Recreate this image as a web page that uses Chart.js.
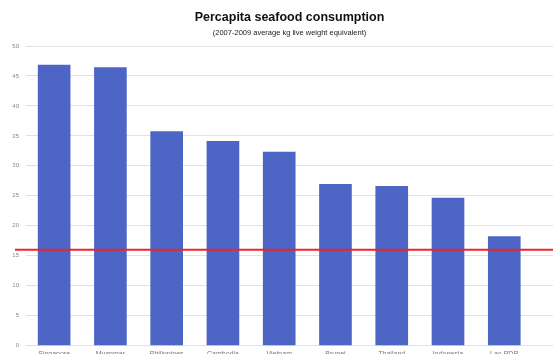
<!DOCTYPE html>
<html>
<head>
<meta charset="utf-8">
<script src="https://cdn.jsdelivr.net/npm/chart.js@4/dist/chart.umd.min.js"></script>
<style>
  html, body { margin: 0; padding: 0; background: #fff; overflow: hidden; }
  #wrap { width: 553px; height: 364px; }
</style>
</head>
<body>
<div id="wrap"><canvas id="myChart"></canvas></div>
<script>
const paises = ["Singapore", "Myanmar", "Philippines", "Cambodia", "Vietnam", "Brunei", "Thailand", "Indonesia", "Lao PDR"];
const consumo = [46.8, 46.4, 35.7, 34.1, 32.3, 26.9, 26.6, 24.6, 18.2];
const promedioMundial = 16;
const yTicks = [0, 5, 10, 15, 20, 25, 30, 35, 40, 45, 50];

const puntos = consumo.map((v, i) => ({x: i, y: v}));

// linea roja del promedio, de borde a borde
const lineaRoja = {
  id: "lineaRoja",
  afterDatasetsDraw(chart) {
    const ctx = chart.ctx;
    const y = chart.scales.y.getPixelForValue(promedioMundial);
    ctx.save();
    ctx.strokeStyle = "#e8262b";
    ctx.lineWidth = 2;
    ctx.beginPath();
    ctx.moveTo(15, y);
    ctx.lineTo(chart.width, y);
    ctx.stroke();
    ctx.restore();
  }
};

const myChart = new Chart("myChart", {
  type: "bar",
  data: {
    datasets: [{
      data: puntos,
      backgroundColor: "#4d65c5",
      barThickness: 32
    }]
  },
  options: {
    responsive: true,
    maintainAspectRatio: false,
    animation: false,
    layout: {padding: {left: 0, right: 0, top: 0, bottom: 2}},
    plugins: {
      legend: {display: false},
      tooltip: {enabled: false},
      title: {
        display: true,
        fullSize: false,
        text: "Percapita seafood consumption",
        color: "#111",
        font: {family: "Liberation Sans", size: 12.5, weight: "bold"},
        padding: {top: 10, bottom: 3}
      },
      subtitle: {
        display: true,
        fullSize: false,
        text: "(2007-2009 average kg live weight equivalent)",
        color: "#222",
        font: {family: "Liberation Sans", size: 7.5},
        padding: {top: 0, bottom: 9}
      }
    },
    scales: {
      x: {
        type: "linear",
        offset: false,
        min: -0.5,
        max: 8.866,
        grid: {display: false, drawTicks: false},
        border: {display: false},
        afterBuildTicks(scale) {
          scale.ticks = paises.map((p, i) => ({value: i}));
        },
        ticks: {
          autoSkip: false,
          maxRotation: 0,
          padding: 4,
          color: "#777",
          font: {family: "Liberation Sans", size: 7},
          callback: (v) => paises[v] || ""
        }
      },
      y: {
        min: 0,
        max: 50,
        afterBuildTicks(scale) {
          scale.ticks = yTicks.map(v => ({value: v}));
        },
        afterFit(scale) { scale.width = 26; },
        grid: {color: "#e2e2e2", drawTicks: false},
        border: {display: false},
        ticks: {
          padding: 7,
          color: "#888",
          font: {family: "Liberation Sans", size: 6}
        }
      }
    }
  },
  plugins: [lineaRoja]
});
</script>
</body>
</html>
